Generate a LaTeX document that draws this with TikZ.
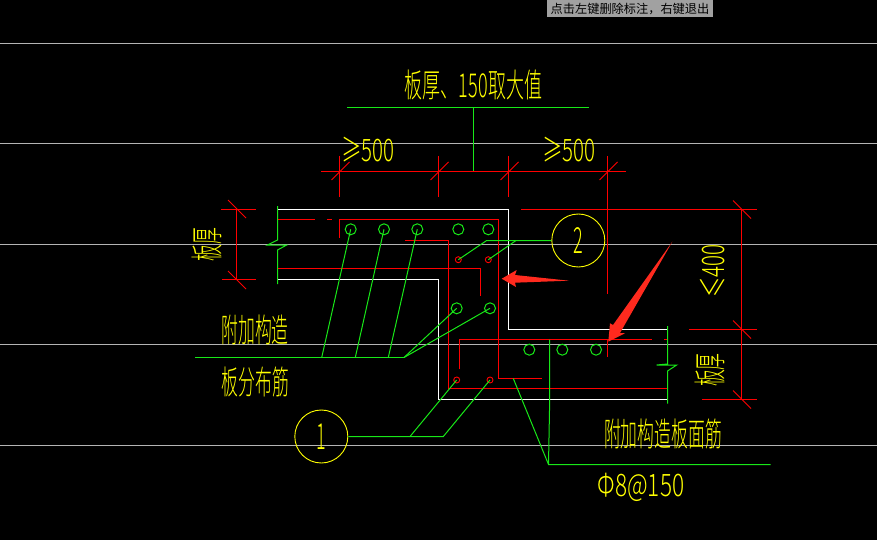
\documentclass[tikz,border=0pt]{standalone}
\usepackage{fontspec}
\setmainfont{Noto Sans CJK SC}
\newfontfamily\cjk{Noto Sans CJK SC}[UprightFont={* Light}]
\definecolor{cadred}{HTML}{FF0000}
\definecolor{cadgreen}{HTML}{18E818}
\definecolor{cadyellow}{HTML}{FFFF00}
\definecolor{cadgrey}{HTML}{B4B4B4}
\definecolor{arrowred}{HTML}{FF2A1E}
\tikzset{
  gridline/.style={draw=cadgrey,line width=1pt},
  wall/.style={draw=white,line width=1pt},
  rebar/.style={draw=cadred,line width=1pt},
  dimline/.style={draw=cadred,line width=1pt},
  leader/.style={draw=cadgreen,line width=1pt},
  barcirc/.style={circle,draw=cadgreen,line width=1pt,minimum size=11pt,inner sep=0pt},
  stirrup/.style={circle,draw=cadred,line width=.9pt,minimum size=6pt,inner sep=0pt},
  bubblering/.style={circle,draw=cadyellow,line width=.9pt,minimum size=53pt,inner sep=0pt},
  bubbletext/.style={text=cadyellow,inner sep=0pt,font=\cjk\fontsize{36}{36}\selectfont,xscale=.5,transform shape},
  cadtext/.style={text=cadyellow,inner sep=0pt,font=\cjk\fontsize{33}{33}\selectfont,xscale=.51,transform shape},
  cadtop/.style={text=cadyellow,inner sep=0pt,font=\cjk\fontsize{33}{33}\selectfont,xscale=.545,transform shape},
  caddigits/.style={text=cadyellow,inner sep=0pt,font=\cjk\fontsize{31}{31}\selectfont,xscale=.66,transform shape},
  arrowfill/.style={fill=arrowred,draw=none}
}
\begin{document}
\begin{tikzpicture}[x=1pt,y=-1pt]
\useasboundingbox (0,0) rectangle (877,540);
\fill[black] (0,0) rectangle (877,540);
% message bar
\node[fill=black!37,minimum width=166pt,minimum height=17pt,inner sep=0pt,text=black,font=\fontsize{12.2}{12}\selectfont] (msg) at (630,8.5) {点击左键删除标注^^^^ff0c右键退出};
% grid lines
\foreach \gy in {43.5,143.5,244.5,344.5,445.5} \draw[gridline] (0,\gy) -- (877,\gy);
% white outline
\draw[wall] (278,209.5) -- (508.5,209.5) -- (508.5,329.5) -- (667,329.5);
\draw[wall] (278,279.5) -- (438.5,279.5) -- (438.5,399.5) -- (667,399.5);
% break lines
\draw[leader] (277.5,206) -- (277.5,240) -- (267.5,245) -- (286.7,245) -- (277.5,250) -- (277.5,284);
\draw[leader] (667.5,326) -- (667.5,364) -- (656.7,365) -- (676.7,365) -- (667.5,371) -- (667.5,403.6);
% red rebars
\draw[rebar] (278,219.5) -- (315,219.5);
\draw[rebar] (327,219.5) -- (332,219.5);
\draw[rebar] (339.5,237.7) -- (339.5,219.5) -- (498.5,219.5) -- (498.5,378.5) -- (541.7,378.5);
\draw[rebar] (405.3,240.5) -- (448.5,240.5) -- (448.5,388.5) -- (667,388.5);
\draw[rebar] (278,268.5) -- (480.5,268.5) -- (480.5,295.7);
\draw[rebar] (459.5,369) -- (459.5,339.5) -- (651.7,339.5);
\draw[rebar] (664,339.5) -- (667,339.5);
% top dimension
\draw[dimline] (321,171.5) -- (626,171.5);
\foreach \dx in {339.5,438.5,508.5} {
  \draw[dimline] (\dx,156) -- (\dx,197);
}
\draw[dimline] (607.5,156) -- (607.5,294);
\draw[dimline] (607.5,339.5) -- (607.5,356.7);
\foreach \dx in {339.5,438.5,508.5,607.5} {
  \draw[dimline] (\dx-8,180) -- (\dx+10,162);
}
% left dimension
\draw[dimline] (221,209.5) -- (256,209.5);
\draw[dimline] (222,279.5) -- (256,279.5);
\draw[dimline] (236.5,209.5) -- (236.5,279.5);
\draw[dimline] (228,200) -- (246,218);
\draw[dimline] (228,271) -- (246,289);
% right dimension
\draw[dimline] (521,209.5) -- (757,209.5);
\draw[dimline] (689,329.5) -- (757,329.5);
\draw[dimline] (702,399.5) -- (757,399.5);
\draw[dimline] (741.5,209.5) -- (741.5,399.5);
\foreach \dy in {209.5,329.5,399.5} \draw[dimline] (733,\dy-9) -- (751,\dy+9);
% top label leader
\coordinate (topL) at (347,107.5);
\coordinate (topR) at (589,107.5);
\coordinate (topM) at (473.5,107.5);
\coordinate (topB) at (473.5,171.5);
\draw[leader] (topL) -- (topR);
\draw[leader] (topM) -- (topB);
% bar circles
\foreach \n/\bx/\by in {a/350.7/229.3,b/384/229.3,c/417.3/229.3,d/458.3/229.3,e/488.3/229.3,f/456.7/308.3,g/490/308.3,h/529.3/349.7,i/562.3/349.7,j/596/349.7}
  \node[barcirc] (\n) at (\bx,\by) {};
\foreach \n/\bx/\by in {p/458.3/259.7,q/488.3/259.7,r/456.7/380,s/490/380}
  \node[stirrup] (\n) at (\bx,\by) {};
% callouts
\node[bubblering] (two) at (578.3,240.5) {};
\node[bubblering] (one) at (321.3,436.5) {};
\node[bubbletext] (twotext) at (two) {2};
\node[bubbletext] (onetext) at (one) {1};
% leaders
\coordinate (j1) at (321.7,357.5);
\coordinate (j2) at (355.3,357.5);
\coordinate (j3) at (388.3,357.5);
\coordinate (j0) at (195,357.5);
\coordinate (j4) at (404,357.5);
\draw[leader] (j0) -- (j4);
\draw[leader] (a.center) -- (j1);
\draw[leader] (b.center) -- (j2);
\draw[leader] (c.center) -- (j3);
\draw[leader] (j4) -- (f.center);
\draw[leader] (j4) -- (g.center);
\coordinate (k1) at (486.7,240.5);
\coordinate (k2) at (516,240.5);
\draw[leader] (p.center) -- (k1) -- (two.west);
\draw[leader] (q.center) -- (k2);
\coordinate (m1) at (410,436.5);
\coordinate (m2) at (443.3,436.5);
\draw[leader] (one.east) -- (m2) -- (s.center);
\draw[leader] (m1) -- (r.center);
\coordinate (v1) at (549.5,339.5);
\coordinate (v1b) at (549.5,410);
\coordinate (v2) at (548.5,464.5);
\coordinate (v3) at (770.7,464.5);
\coordinate (v4) at (513.3,378.5);
\draw[leader] (v1) -- (v1b) -- (v2) -- (v3);
\draw[leader] (v4) -- (v2);
% red arrows
\fill[arrowfill] (501.7,278.7) -- (516.7,270) -- (515,275) -- (569,280.7) -- (515,282.7) -- (516,287) -- cycle;
\fill[arrowfill] (608.3,341.7) -- (610,323.3) -- (613,325) -- (672.3,241.7) -- (620,333) -- (625,333.3) -- cycle;
% texts
\node[cadtop] (t1) at (473.5,84.5) {板厚、1\kern1pt5\kern1pt0\kern1pt取大值};
\node[caddigits] (t2) at (368,149.5) {≥500};
\node[caddigits] (t3) at (569,149.5) {≥500};
\node[rotate=90,cadtext] (t4) at (206.5,244.5) {板厚};
\node[rotate=90,cadtext] (t5) at (710,370) {板厚};
\node[rotate=90,caddigits] (t6) at (712.5,271) {≤400};
\node[cadtext] (t7) at (255,330) {附加构造};
\node[cadtext] (t8) at (255.5,382) {板分布筋};
\node[cadtext] (t9) at (663,434) {附加构造板面筋};
\node[text=cadyellow,inner sep=0pt,font=\cjk\fontsize{31}{31}\selectfont,xscale=.73,transform shape] (t10) at (641,487) {Φ8@150};
\end{tikzpicture}
\end{document}
